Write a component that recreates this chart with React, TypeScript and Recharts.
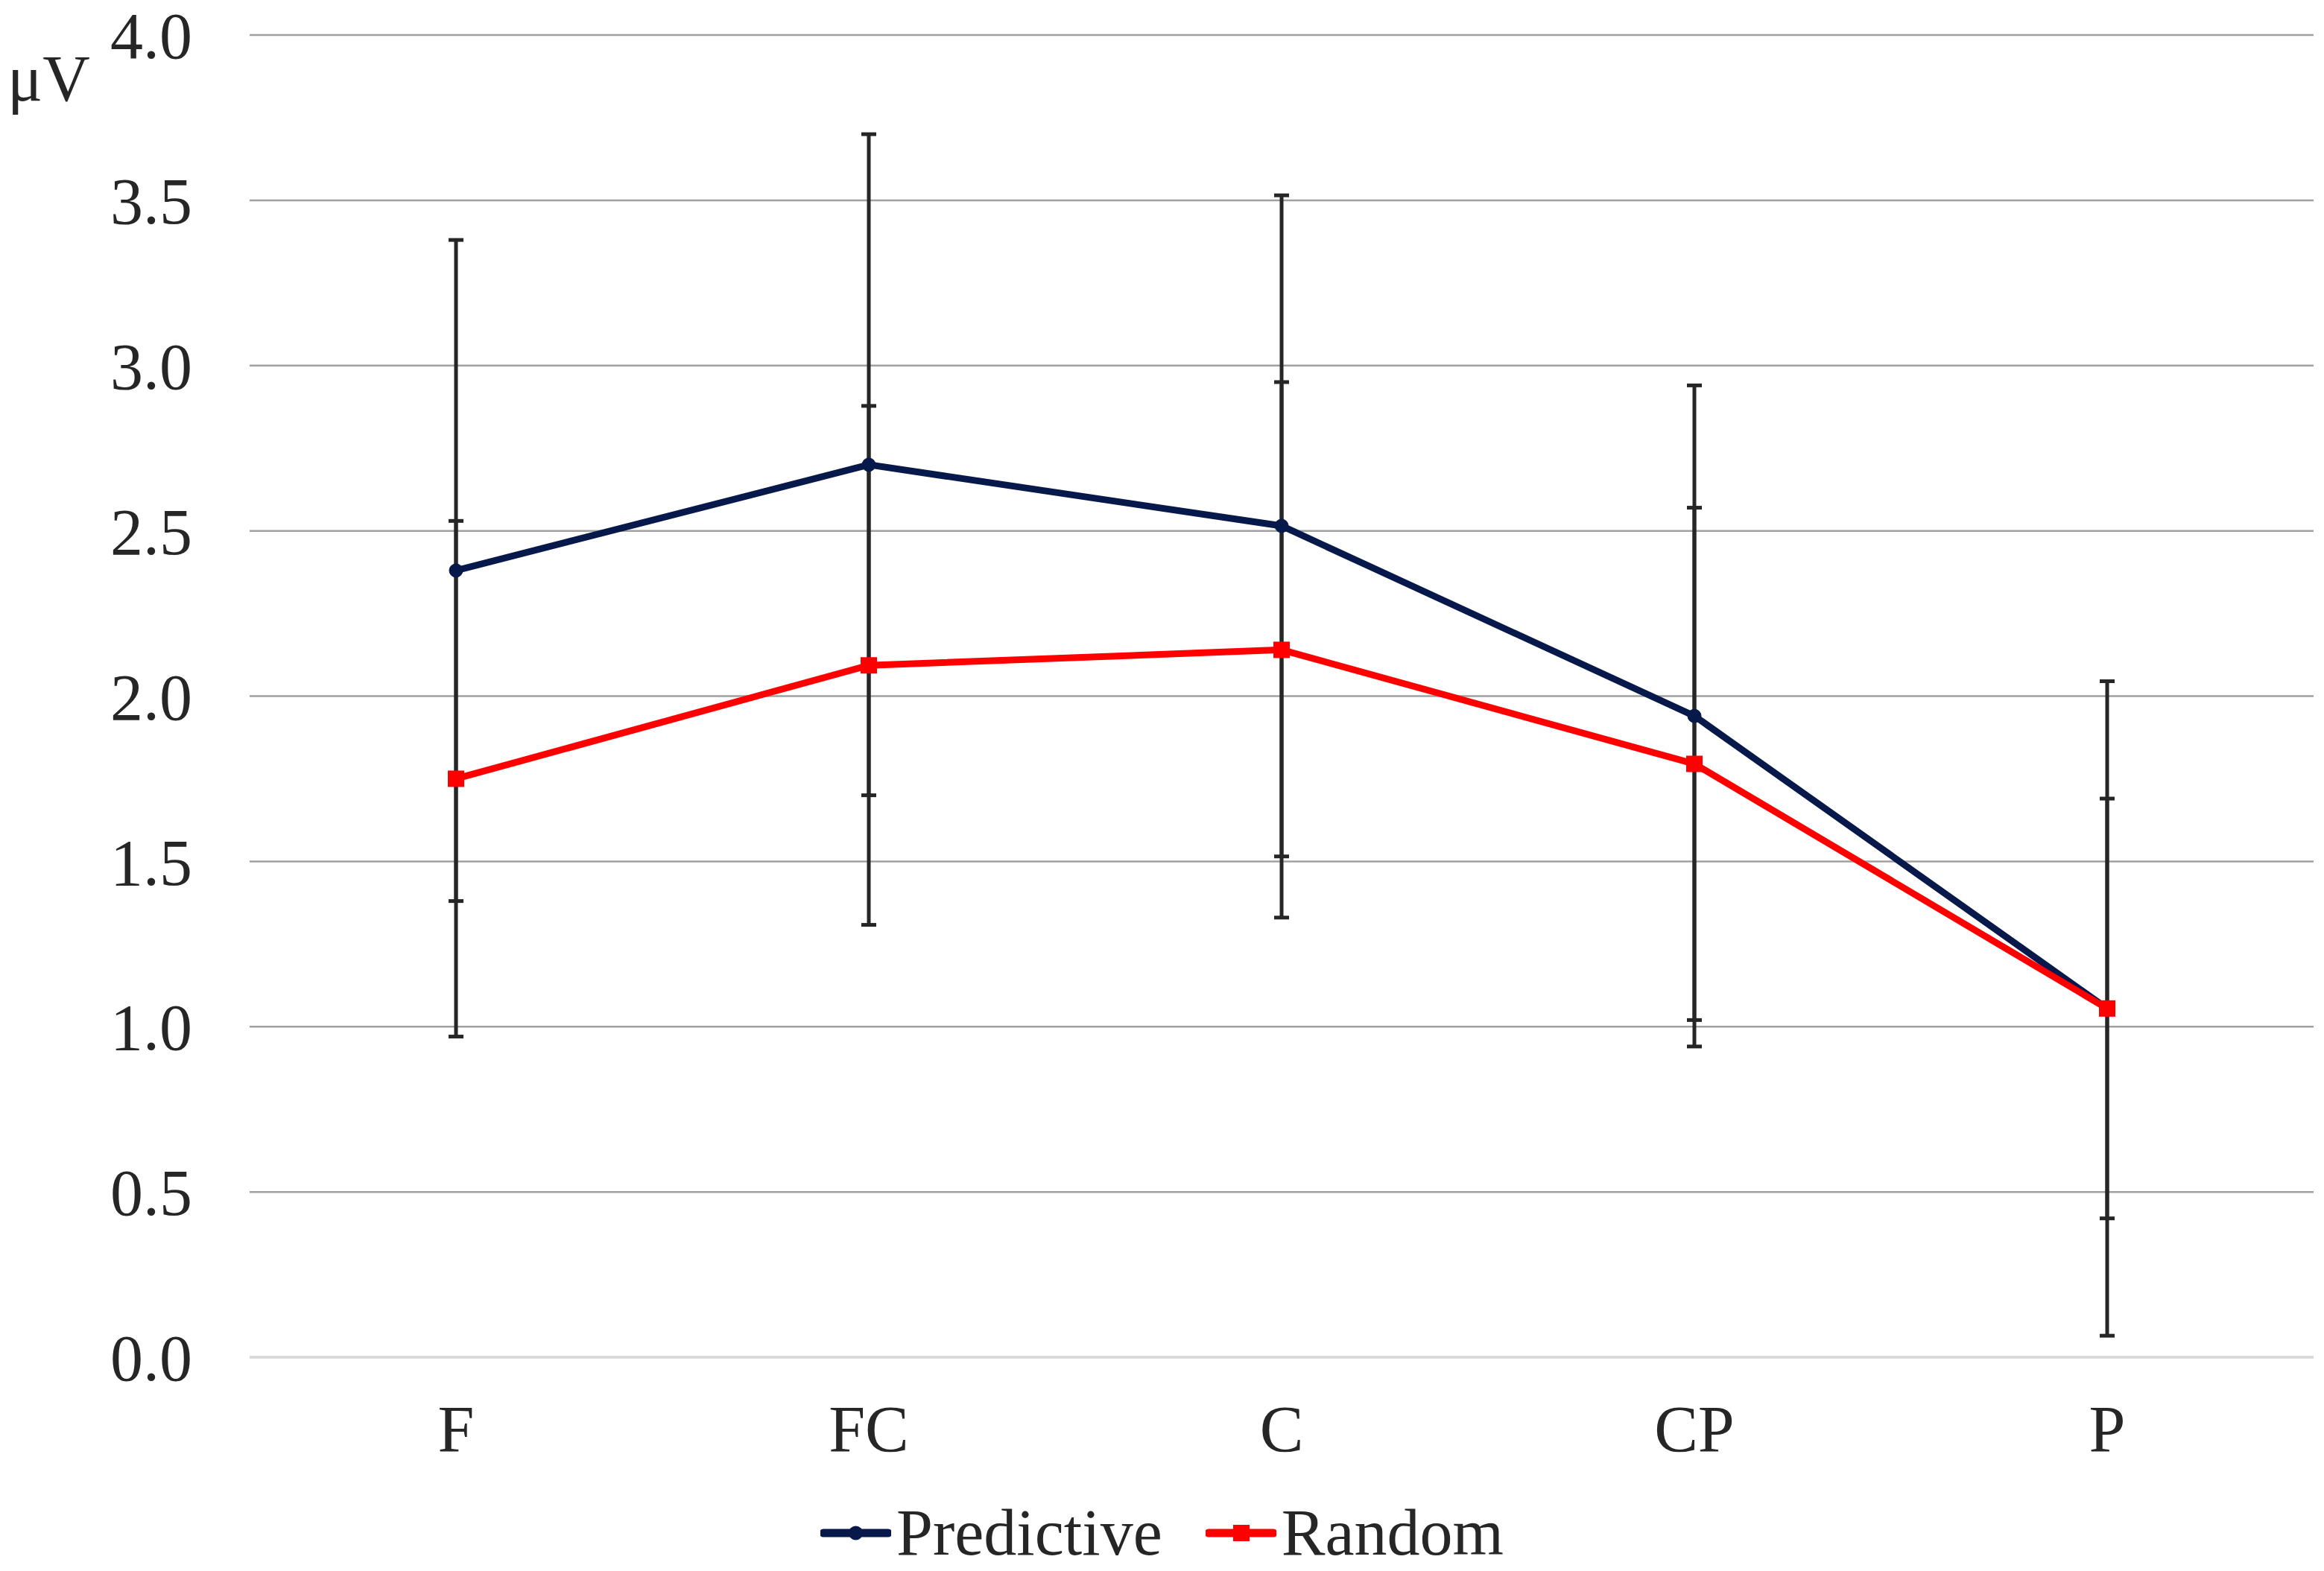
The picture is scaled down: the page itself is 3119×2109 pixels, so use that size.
import { LineChart, Line, XAxis, YAxis, CartesianGrid, ErrorBar, Legend } from 'recharts';

document.body.style.margin = '0';
document.body.style.overflow = 'hidden';

const categories = ['F', 'FC', 'C', 'CP', 'P'];
const predictive = [2.38, 2.7, 2.515, 1.94, 1.055];
const predictiveErr = [1.0, 1.0, 1.0, 1.0, 0.99];
const random = [1.75, 2.093, 2.14, 1.795, 1.055];
const randomErr = [0.78, 0.785, 0.81, 0.775, 0.635];
const yTicks = [0, 0.5, 1, 1.5, 2, 2.5, 3, 3.5, 4];

const NAVY = '#07184a';
const RED = '#ff0000';
const TEXT = '#262626';
const FONT = '"Liberation Serif", "Times New Roman", serif';

const data = categories.map((cat, i) => ({
  cat,
  predictive: predictive[i],
  predictiveErr: predictiveErr[i],
  random: random[i],
  randomErr: randomErr[i],
}));

// square marker for the Random series
const SquareDot = (props: any) => {
  const { cx, cy, index } = props;
  if (cx == null || cy == null) return null;
  return <rect key={`sq-${index}`} x={cx - 11} y={cy - 11} width={22} height={22} fill={RED} />;
};

const LegendIcon = ({ kind }: { kind: string }) => (
  <svg width={95} height={24} style={{ marginRight: 7, display: 'block' }}>
    <line x1={4} y1={12} x2={91} y2={12} stroke={kind === 'random' ? RED : NAVY} strokeWidth={11} strokeLinecap="round" />
    {kind === 'random' ? (
      <rect x={37} y={1} width={22} height={22} fill={RED} />
    ) : (
      <circle cx={47.5} cy={12} r={9.5} fill={NAVY} />
    )}
  </svg>
);

const renderLegend = (props: any) => {
  const { payload = [] } = props;
  return (
    <div style={{ display: 'flex', justifyContent: 'center', alignItems: 'center', fontFamily: FONT }}>
      {payload.map((entry: any, i: number) => (
        <div
          key={entry.value}
          style={{ display: 'flex', alignItems: 'center', marginLeft: i > 0 ? 58 : 0, height: 88 }}
        >
          <LegendIcon kind={entry.dataKey} />
          <span style={{ fontSize: 88, lineHeight: 1, color: TEXT }}>{entry.value}</span>
        </div>
      ))}
    </div>
  );
};

export default function App() {
  return (
    <LineChart
      width={3119}
      height={2109}
      data={data}
      margin={{ top: 47, right: 14, left: 0, bottom: 257 }}
      style={{ background: '#ffffff' }}
    >
      <CartesianGrid vertical={false} stroke="#a0a0a0" strokeWidth={2.5} />
      <XAxis
        dataKey="cat"
        height={30}
        padding={{ left: 277, right: 277 }}
        tickLine={false}
        tickSize={0}
        tickMargin={64}
        axisLine={{ stroke: '#d9d9d9', strokeWidth: 3.5 }}
        tick={{ fill: TEXT, fontSize: 88, fontFamily: FONT }}
      />
      <YAxis
        width={335}
        domain={[0, 4]}
        ticks={yTicks}
        interval={0}
        tickFormatter={(v: number) => v.toFixed(1)}
        tickLine={false}
        axisLine={false}
        tickSize={0}
        tickMargin={77}
        tick={{ fill: TEXT, fontSize: 88, fontFamily: FONT }}
        label={(props: any) => (
          <text x={10} y={(props.viewBox?.y ?? 47) + 88} fill={TEXT} fontSize={88} fontFamily={FONT}>
            μV
          </text>
        )}
      />
      <Line
        type="linear"
        dataKey="predictive"
        name="Predictive"
        stroke={NAVY}
        strokeWidth={9}
        dot={{ r: 9, fill: NAVY, stroke: NAVY, strokeWidth: 1 }}
        activeDot={false}
        isAnimationActive={false}
      >
        <ErrorBar dataKey="predictiveErr" width={10} strokeWidth={5} stroke="#262626" direction="y" />
      </Line>
      <Line
        type="linear"
        dataKey="random"
        name="Random"
        stroke={RED}
        strokeWidth={9}
        dot={<SquareDot />}
        activeDot={false}
        isAnimationActive={false}
      >
        <ErrorBar dataKey="randomErr" width={10} strokeWidth={5} stroke="#262626" direction="y" />
      </Line>
      <Legend
        layout="horizontal"
        verticalAlign="middle"
        align="center"
        content={renderLegend}
        wrapperStyle={{ top: 2014, left: 0, width: 3119, height: 88 }}
      />
    </LineChart>
  );
}
